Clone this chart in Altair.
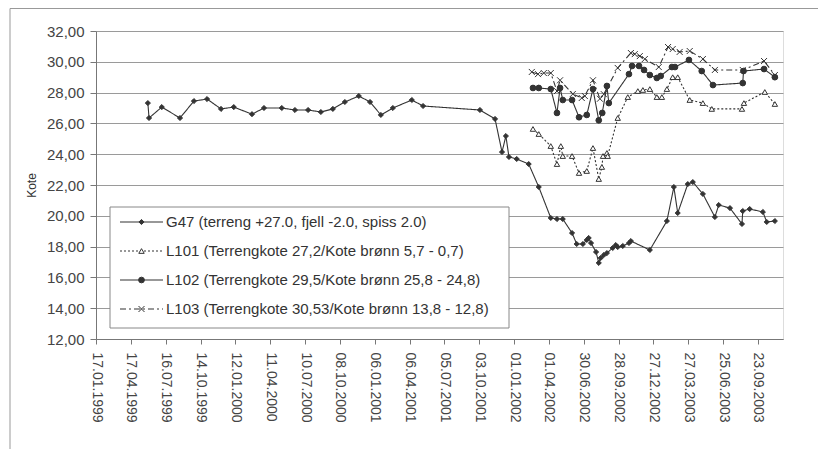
import altair as alt
import pandas as pd

SERIES = [
    "G47 (terreng +27.0, fjell -2.0, spiss 2.0)",
    "L101 (Terrengkote 27,2/Kote brønn 5,7 - 0,7)",
    "L102 (Terrengkote 29,5/Kote brønn 25,8 - 24,8)",
    "L103 (Terrengkote 30,53/Kote brønn 13,8 - 12,8)",
]

g47_dates = ["1999-05-31", "1999-06-03", "1999-07-06", "1999-08-22", "1999-09-27", "1999-10-31",
             "1999-12-06", "2000-01-08", "2000-02-24", "2000-03-26", "2000-05-11", "2000-06-14",
             "2000-07-18", "2000-08-20", "2000-09-20", "2000-10-21", "2000-11-26", "2000-12-25",
             "2001-01-22", "2001-02-22", "2001-04-12", "2001-05-11", "2001-10-05", "2001-11-13",
             "2001-12-01", "2001-12-11", "2001-12-19", "2002-01-08", "2002-02-08", "2002-03-06",
             "2002-04-06", "2002-04-22", "2002-05-07", "2002-05-31", "2002-06-12", "2002-06-28",
             "2002-07-08", "2002-07-13", "2002-07-19", "2002-08-01", "2002-08-08", "2002-08-13",
             "2002-08-21", "2002-08-29", "2002-09-13", "2002-09-21", "2002-09-26", "2002-10-09",
             "2002-10-25", "2002-10-30", "2002-12-18", "2003-01-31", "2003-02-18", "2003-02-28",
             "2003-03-26", "2003-04-08", "2003-05-04", "2003-06-04", "2003-06-14", "2003-07-13",
             "2003-08-13", "2003-08-15", "2003-09-02", "2003-10-06", "2003-10-16", "2003-11-06"]
g47_vals = [27.32, 26.35, 27.06, 26.35, 27.45, 27.58,
            26.94, 27.06, 26.60, 27.00, 27.00, 26.87,
            26.87, 26.74, 26.94, 27.39, 27.78, 27.39,
            26.55, 27.00, 27.52, 27.13, 26.87, 26.29,
            24.14, 25.18, 23.82, 23.69, 23.36, 21.87,
            19.86, 19.79, 19.79, 18.88, 18.17, 18.17,
            18.43, 18.56, 18.23, 17.65, 16.94, 17.26,
            17.45, 17.58, 17.91, 18.10, 17.97, 18.04,
            18.23, 18.36, 17.78, 19.66, 21.87, 20.18,
            22.06, 22.19, 21.42, 19.92, 20.70, 20.50,
            19.47, 20.31, 20.44, 20.25, 19.60, 19.66]

l101_dates = ["2002-02-19", "2002-03-06", "2002-04-06", "2002-04-22", "2002-05-02", "2002-05-07",
              "2002-05-31", "2002-06-18", "2002-07-08", "2002-07-24", "2002-08-08", "2002-08-16",
              "2002-08-19", "2002-08-29", "2002-08-31", "2002-09-26", "2002-10-22", "2002-11-17",
              "2002-11-30", "2002-12-18", "2003-01-05", "2003-01-18", "2003-01-31", "2003-02-15",
              "2003-02-28", "2003-03-31", "2003-05-04", "2003-05-27", "2003-08-13", "2003-08-18",
              "2003-10-11", "2003-11-06"]
l101_vals = [25.64, 25.31, 24.53, 23.36, 24.53, 23.88,
             23.88, 22.78, 22.91, 24.40, 22.39, 23.17,
             23.88, 24.08, 23.88, 26.35, 27.71, 28.10,
             28.17, 28.23, 27.71, 27.71, 28.23, 29.00,
             29.00, 27.52, 27.32, 26.94, 26.94, 27.32,
             28.04, 27.26]

l102_dates = ["2002-02-19", "2002-03-06", "2002-04-06", "2002-04-22", "2002-04-30", "2002-05-07",
              "2002-05-31", "2002-06-18", "2002-07-08", "2002-07-24", "2002-08-08", "2002-08-17",
              "2002-08-29", "2002-09-03", "2002-10-25", "2002-11-02", "2002-11-20", "2002-12-03",
              "2002-12-18", "2003-01-05", "2003-01-15", "2003-02-13", "2003-02-21", "2003-03-29",
              "2003-05-01", "2003-05-30", "2003-08-15", "2003-08-17", "2003-10-09", "2003-11-06"]
l102_vals = [28.30, 28.30, 28.23, 26.68, 28.30, 27.52,
             27.52, 26.40, 26.55, 28.23, 26.20, 26.68,
             28.43, 27.32, 29.20, 29.73, 29.73, 29.47,
             29.14, 28.95, 29.08, 29.66, 29.66, 30.12,
             29.40, 28.49, 28.62, 29.40, 29.53, 29.00]

l103_dates = ["2002-02-16", "2002-03-04", "2002-03-19", "2002-04-06", "2002-04-22", "2002-04-30",
              "2002-06-02", "2002-06-25", "2002-07-03", "2002-07-24", "2002-08-11", "2002-08-21",
              "2002-09-26", "2002-10-30", "2002-11-09", "2002-11-22", "2002-12-05", "2003-01-10",
              "2003-02-03", "2003-02-15", "2003-03-05", "2003-03-31", "2003-05-04", "2003-06-04",
              "2003-08-15", "2003-10-09", "2003-11-06"]
l103_vals = [29.34, 29.20, 29.27, 29.27, 28.10, 28.80,
             27.91, 27.65, 27.78, 28.80, 27.60, 27.90,
             29.60, 30.57, 30.50, 30.37, 30.18, 29.66,
             30.96, 30.83, 30.64, 30.70, 30.18, 29.47,
             29.47, 30.05, 29.14]

tick_dates = ["1999-01-17", "1999-04-17", "1999-07-16", "1999-10-14", "2000-01-12", "2000-04-11",
              "2000-07-10", "2000-10-08", "2001-01-06", "2001-04-06", "2001-07-05", "2001-10-03",
              "2002-01-01", "2002-04-01", "2002-06-30", "2002-09-28", "2002-12-27", "2003-03-27",
              "2003-06-25", "2003-09-23"]
x_domain = ["1999-01-17", "2003-11-27"]
y_ticks = [12, 14, 16, 18, 20, 22, 24, 26, 28, 30, 32]

rows = []
for name, ds, vs in zip(SERIES, [g47_dates, l101_dates, l102_dates, l103_dates],
                        [g47_vals, l101_vals, l102_vals, l103_vals]):
    for d, v in zip(ds, vs):
        rows.append({"date": d, "value": v, "series": name, "series_pt": name})
df = pd.DataFrame(rows)

legend_df = pd.DataFrame({"series": SERIES, "series_pt": SERIES, "row": list(range(len(SERIES)))})


def dt(s):
    y, m, d = (int(p) for p in s.split("-"))
    return alt.DateTime(year=y, month=m, date=d, utc=True)


W, H = 687, 308
INK = "#333333"
FONT = "Liberation Sans"

x_axis = alt.Axis(values=[dt(s) for s in tick_dates],
                  labelExpr="utcFormat(datum.value, '%d.%m.%Y')",
                  labelAngle=90, labelFontSize=14, labelPadding=8, tickSize=5,
                  grid=False, title=None, labelColor="#444", labelFont=FONT,
                  domainColor="#777", tickColor="#777", labelOverlap=False)
x_enc = alt.X("date:T", scale=alt.Scale(type="utc", domain=[dt(s) for s in x_domain]), axis=x_axis)
y_scale = alt.Scale(domain=[12, 32], nice=False, zero=False)
y_enc = alt.Y("value:Q", scale=y_scale,
              axis=alt.Axis(values=y_ticks, labelExpr="replace(format(datum.value, '.2f'), '.', ',')",
                            labelFontSize=15, labelPadding=6, tickSize=6, grid=True,
                            gridColor="#9a9a9a", title="Kote", titleFontSize=12,
                            titleFontWeight="normal", titleColor=INK, titlePadding=8,
                            labelColor="#444", labelFont=FONT, titleFont=FONT,
                            domainColor="#777", tickColor="#777", labelOverlap=False))

dash_enc = alt.StrokeDash("series:N",
                          scale=alt.Scale(domain=SERIES, range=[[1, 0], [2, 2], [1, 0], [6, 3, 2, 3]]),
                          legend=None)
shape_enc = alt.Shape("series_pt:N",
                      scale=alt.Scale(domain=SERIES,
                                      range=["diamond", "triangle-up", "circle", "M-1,-1L1,1M1,-1L-1,1"]),
                      legend=None)
fill_enc = alt.Fill("series_pt:N", scale=alt.Scale(domain=SERIES, range=[INK, "white", INK, INK]),
                    legend=None)
size_enc = alt.Size("series_pt:N", scale=alt.Scale(domain=SERIES, range=[26, 36, 46, 44]),
                    legend=None)

lines = alt.Chart(df).mark_line(strokeWidth=1.1, color=INK).encode(
    x=x_enc, y=y_enc, strokeDash=dash_enc)

points = alt.Chart(df).mark_point(filled=True, stroke=INK, strokeWidth=1, opacity=1).encode(
    x=x_enc, y=alt.Y("value:Q", scale=y_scale, axis=None),
    shape=shape_enc, fill=fill_enc, size=size_enc)

# legend drawn from the series list
row_y = alt.Y("row:Q", scale=alt.Scale(domain=[0, 3], range=[191, 278]), axis=None)

frame_df = pd.DataFrame({"k": [0]})
leg_box = alt.Chart(frame_df).mark_rect(fill="white", stroke="#888", strokeWidth=1).encode(
    x=alt.value(14), x2=alt.value(413), y=alt.value(176), y2=alt.value(297))
leg_lines = alt.Chart(legend_df).mark_rule(strokeWidth=1.1, color=INK).encode(
    x=alt.value(24), x2=alt.value(67), y=row_y, strokeDash=dash_enc)
leg_points = alt.Chart(legend_df).mark_point(filled=True, stroke=INK, strokeWidth=1, opacity=1).encode(
    x=alt.value(45.5), y=row_y, shape=shape_enc, fill=fill_enc, size=size_enc)
leg_text = alt.Chart(legend_df).mark_text(align="left", baseline="middle", fontSize=15,
                                          font=FONT, color=INK).encode(
    x=alt.value(70), y=row_y, text="series:N")

frame_top = alt.Chart(frame_df).mark_rule(color="#999", strokeWidth=1).encode(
    x=alt.value(-86), x2=alt.value(W + 35), y=alt.value(-22.5))
frame_left = alt.Chart(frame_df).mark_rule(color="#999", strokeWidth=1).encode(
    x=alt.value(-86), y=alt.value(-22.5), y2=alt.value(H + 110))

chart = alt.layer(lines, points, leg_box, leg_lines, leg_points, leg_text,
                  frame_top, frame_left).resolve_scale(y="independent").properties(
    width=W, height=H,
    autosize=alt.AutoSizeParams(type="none"),
    padding={"left": 88, "top": 23, "right": 35, "bottom": 110},
).configure_view(stroke="#888").configure(background="white")

chart.save("out.html", embed_options={"renderer": "svg", "actions": False})
